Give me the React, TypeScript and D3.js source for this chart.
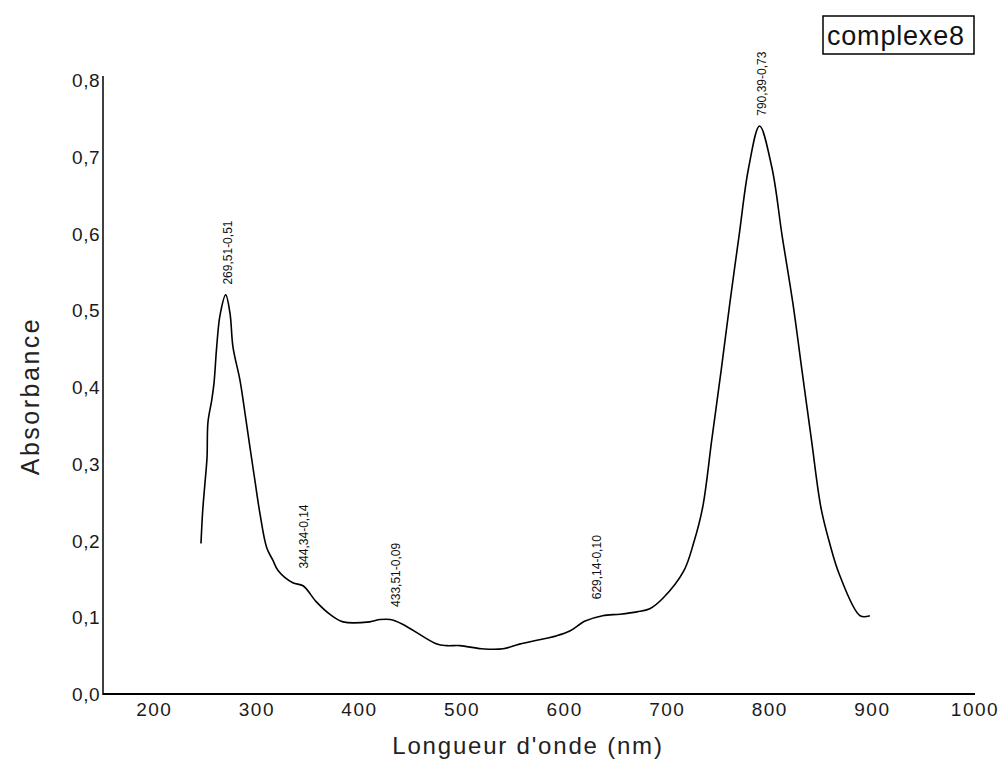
import React from "react";
import * as d3 from "d3";

// spectre UV-visible, complexe8
const wavelength = [
    245.5, 247.2, 249.4, 251.4, 252.3, 256, 258.2, 260.8, 264, 269.6, 273.8, 276.7,
    283.5, 288.4, 293.3, 298.1, 303, 309.5, 315.7, 320.6, 335, 345, 358, 371, 384,
    410, 420, 430, 442, 475.5, 485, 498, 519, 540, 556, 592.5, 605, 620, 637, 654,
    670.5, 683, 696, 716, 726, 734.5, 743.5, 752.4, 761, 770, 779.4, 790, 802,
    812, 822.5, 831.5, 840.5, 849.8, 858, 868, 888, 897.5,
];
const absorbance = [
    0.196, 0.239, 0.275, 0.308, 0.354, 0.383, 0.405, 0.452, 0.493, 0.52, 0.496, 0.452,
    0.409, 0.366, 0.321, 0.278, 0.235, 0.191, 0.174, 0.161, 0.145, 0.141, 0.12, 0.104, 0.094,
    0.094, 0.097, 0.097, 0.091, 0.065, 0.063, 0.063, 0.059, 0.059, 0.065, 0.076, 0.082, 0.095, 0.102, 0.104,
    0.107, 0.111, 0.125, 0.16, 0.198, 0.243, 0.332, 0.42, 0.509, 0.597, 0.686, 0.74, 0.686,
    0.597, 0.509, 0.42, 0.332, 0.243, 0.198, 0.155, 0.102, 0.102,
];

const peakNm = [269.51, 344.34, 433.51, 629.14, 790.39];
const peakAbs = [0.51, 0.14, 0.09, 0.1, 0.73];
const peakText = ["269,51-0,51", "344,34-0,14", "433,51-0,09", "629,14-0,10", "790,39-0,73"];

const xTicks = [200, 300, 400, 500, 600, 700, 800, 900, 1000];
const yTicks = [0, 0.1, 0.2, 0.3, 0.4, 0.5, 0.6, 0.7, 0.8];
const legendLabel = "complexe8";

const W = 1000;
const H = 765;
const margin = {top: 80, right: 25, bottom: 71, left: 103};
const font = "'Liberation Sans', Arial, sans-serif";

const App = () => {
    const x = d3.scaleLinear().domain([150, 1000]).range([margin.left, W - margin.right]);
    const y = d3.scaleLinear().domain([0, 0.8]).range([H - margin.bottom, margin.top]);

    const pts: [number, number][] = wavelength.map((w, i) => [w, absorbance[i]]);
    const line = d3
        .line<[number, number]>()
        .x(d => x(d[0]))
        .y(d => y(d[1]))
        .curve(d3.curveCatmullRom.alpha(0.5));

    const y0 = y(0);
    const fmt = (v: number) => v.toFixed(1).replace(".", ",");

    return (
        <svg width={W} height={H} style={{position: "absolute", left: 0, top: 0, background: "#fff"}}
             fontFamily={font}>
            {/* axes */}
            <line x1={x(150)} x2={x(150)} y1={y(0.8) - 4} y2={y0 + 1} stroke="#000" strokeWidth={1.5}/>
            <line x1={x(150)} x2={x(1000)} y1={y0} y2={y0} stroke="#000" strokeWidth={2}/>

            {xTicks.map(t => (
                <text key={t} x={x(t)} y={y0 + 22} textAnchor="middle" fontSize={19}
                      letterSpacing={1.5} fill="#1a1a1a">{t}</text>
            ))}
            {yTicks.map(t => (
                <text key={t} x={x(150) - 3} y={y(t) + 7} textAnchor="end" fontSize={19}
                      letterSpacing={0.5} fill="#1a1a1a">{fmt(t)}</text>
            ))}

            <text x={528} y={754} textAnchor="middle" fontSize={24} letterSpacing={1.8} fill="#222">
                Longueur d'onde (nm)
            </text>
            <text transform={`translate(39,396) rotate(-90)`} textAnchor="middle" fontSize={25}
                  letterSpacing={2.5} fill="#222">Absorbance</text>

            <path d={line(pts) ?? ""} fill="none" stroke="#000" strokeWidth={1.6}/>

            {peakNm.map((p, i) => (
                <text key={p} transform={`translate(${x(p) + 6},${y(peakAbs[i]) - 18}) rotate(-90)`}
                      fontSize={12} fill="#111">{peakText[i]}</text>
            ))}

            {/* légende */}
            <rect x={823} y={16} width={151} height={38} fill="#fff" stroke="#000" strokeWidth={1.5}/>
            <text x={827} y={45} fontSize={27} letterSpacing={0.8} fill="#111">{legendLabel}</text>
        </svg>
    );
};

export default App;
